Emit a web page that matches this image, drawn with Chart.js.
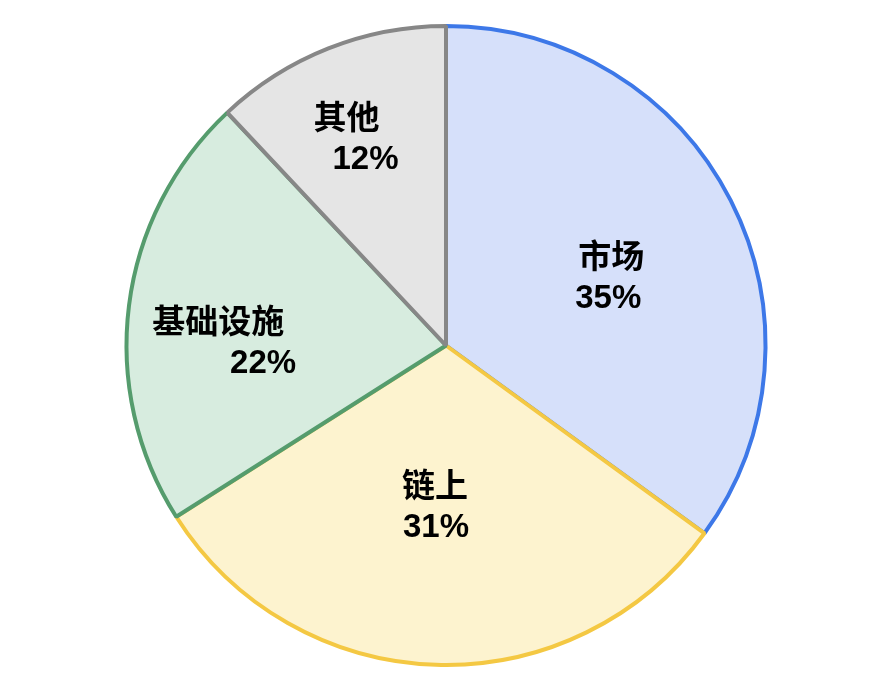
<!DOCTYPE html>
<html lang="zh">
<head>
    <meta charset="UTF-8">
    <title>占比</title>
    <script src="https://cdn.jsdelivr.net/npm/chart.js"></script>
    <style>
        html, body { margin: 0; padding: 0; background: #ffffff; }
        #wrap { width: 892px; height: 696px; position: relative; }
    </style>
</head>
<body>
    <div id="wrap">
        <canvas id="pie-chart"></canvas>
    </div>

    <script>
        // data
        const categories = ['市场', '链上', '基础设施', '其他'];
        const shares = [35, 31, 22, 12];
        const fillColors = ['#d6e0fa', '#fdf3cf', '#d7ecdf', '#e5e5e5'];
        const lineColors = ['#3d78e8', '#f4c843', '#559c6d', '#878787'];

        // where each label sits: fraction of the radius along the slice middle,
        // plus small nudges per line (name line, percent line)
        const labelPlacement = [
            { r: 0.556, dx: [7, 4], dy: 14 },
            { r: 0.50, dx: [-6, -5], dy: 3 },
            { r: 0.64, dx: [-25, 20], dy: 24 },
            { r: 0.71, dx: [-16, 3], dy: 5 }
        ];

        const sliceLabels = {
            id: 'sliceLabels',
            afterDatasetsDraw(chart) {
                const ctx = chart.ctx;
                const arcs = chart.getDatasetMeta(0).data;
                ctx.save();
                ctx.font = 'bold 33px "Liberation Sans", "Noto Sans CJK SC", sans-serif';
                ctx.fillStyle = '#000000';
                ctx.textAlign = 'center';
                ctx.textBaseline = 'middle';
                arcs.forEach((arc, i) => {
                    const p = arc.getProps(['x', 'y', 'startAngle', 'endAngle', 'outerRadius'], true);
                    const mid = (p.startAngle + p.endAngle) / 2;
                    const place = labelPlacement[i];
                    const r = p.outerRadius * place.r;
                    const cx = p.x + Math.cos(mid) * r;
                    const cy = p.y + Math.sin(mid) * r + place.dy;
                    ctx.fillText(categories[i], cx + place.dx[0], cy - 20);
                    ctx.fillText(shares[i] + '%', cx + place.dx[1], cy + 20);
                });
                ctx.restore();
            }
        };

        const ctx = document.getElementById('pie-chart').getContext('2d');
        new Chart(ctx, {
            type: 'pie',
            data: {
                labels: categories,
                datasets: [{
                    data: shares,
                    backgroundColor: fillColors,
                    borderColor: lineColors,
                    borderWidth: 4
                }]
            },
            options: {
                responsive: true,
                maintainAspectRatio: false,
                animation: false,
                layout: { padding: { top: 24, bottom: 29 } },
                plugins: {
                    legend: { display: false },
                    tooltip: { enabled: false }
                }
            },
            plugins: [sliceLabels]
        });
    </script>
</body>
</html>
